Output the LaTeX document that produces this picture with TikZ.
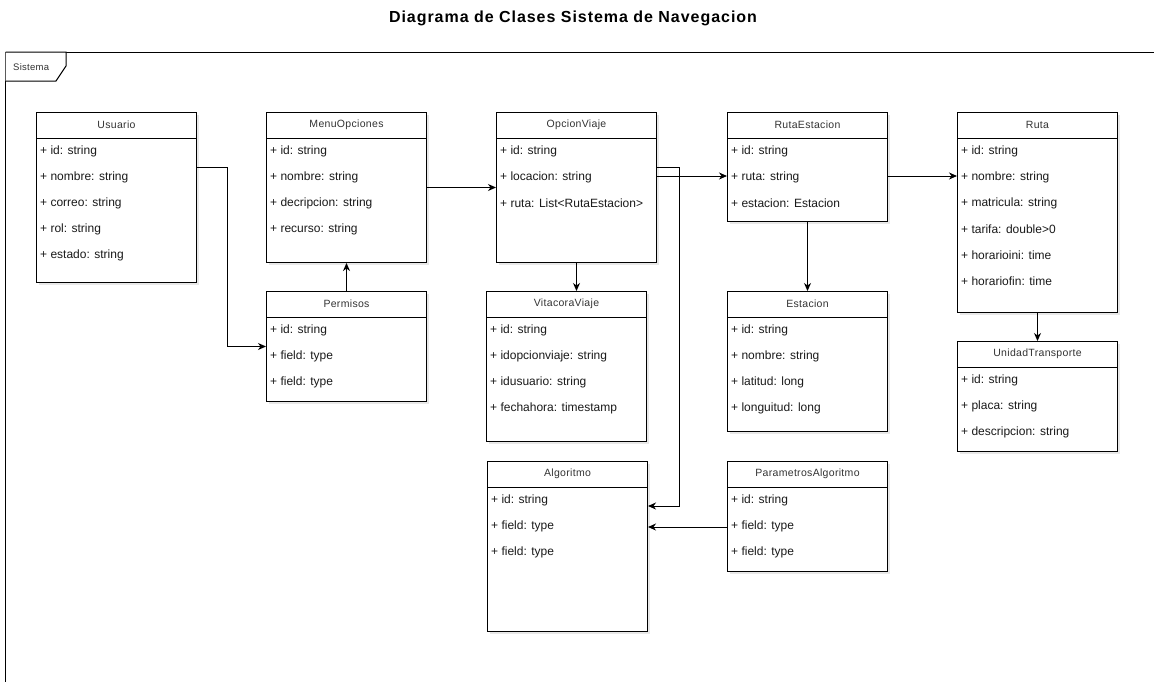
\documentclass[tikz,border=0pt]{standalone}
\usepackage{fontspec}
\setmainfont{Liberation Sans}
\usetikzlibrary{arrows.meta,shadows,calc}

\definecolor{linecol}{HTML}{000000}
\definecolor{headcol}{HTML}{333333}
\definecolor{rowcol}{HTML}{1A1A1A}

\tikzset{
  classbox/.style={draw=linecol, line width=1pt, fill=white, anchor=north west,
    minimum width=160pt, inner sep=0pt,
    drop shadow={opacity=0.18, shadow xshift=2pt, shadow yshift=-2pt}},
  headtext/.style={font=\fontsize{10.5}{12}\selectfont\addfontfeature{LetterSpace=3}, text=headcol, inner sep=0pt},
  rowtext/.style={font=\fontsize{12}{14}\selectfont, text=rowcol, anchor=west, inner sep=0pt},
  assoc/.style={draw=linecol, line width=1pt, -{Stealth[length=8pt,width=7pt,inset=2.5pt]}},
}

% name, x, y (top left), height, title, attribute rows
\newcommand{\umlclass}[6]{%
  \node[classbox, minimum height=#4pt] (#1) at (#2,#3) {};
  \draw[line width=1pt, linecol] ([yshift=-26pt]#1.north west) -- ([yshift=-26pt]#1.north east);
  \node[headtext] (#1-title) at ([yshift=-13pt]#1.north) {#5};
  \foreach \r [count=\i] in {#6} {
    \node[rowtext] (#1-row\i) at ([xshift=4pt, yshift={-13pt-26pt*\i}]#1.north west) {\r};
  }%
}

\begin{document}
\begin{tikzpicture}[x=1pt, y=-1pt]
  \useasboundingbox (0,0) rectangle (1154,681);
  \fill[white] (0,0) rectangle (1154,681);

  % title
  \node[font=\fontsize{16}{18}\selectfont\bfseries\addfontfeature{LetterSpace=6}, inner sep=0pt] (title) at (573,18) {Diagrama de Clases Sistema de Navegacion};

  % system frame with its tab
  \draw[line width=1pt, linecol] (1156,52) -- (5.5,52) -- (5.5,684);
  \draw[line width=1pt, linecol, fill=white] (5.5,52) -- (66,52) -- (66,66) -- (56,81) -- (5.5,81);
  \node[font=\fontsize{9.5}{11}\selectfont\addfontfeature{LetterSpace=3}, text=headcol, inner sep=0pt, anchor=west] (frame-label) at (13,67) {Sistema};

  % classes
  \umlclass{usuario}{36}{112}{170}{Usuario}{+ id: string, + nombre: string, + correo: string, + rol: string, + estado: string}
  \umlclass{menu}{266}{112}{150}{MenuOpciones}{+ id: string, + nombre: string, + decripcion: string, + recurso: string}
  \umlclass{permisos}{266}{291}{110}{Permisos}{+ id: string, + field: type, + field: type}
  \umlclass{opcion}{496}{112}{150}{OpcionViaje}{+ id: string, + locacion: string, + ruta: List<RutaEstacion>}
  \umlclass{vitacora}{486}{291}{150}{VitacoraViaje}{+ id: string, + idopcionviaje: string, + idusuario: string, + fechahora: timestamp}
  \umlclass{rutaest}{727}{112}{109}{RutaEstacion}{+ id: string, + ruta: string, + estacion: Estacion}
  \umlclass{estacion}{727}{291}{140}{Estacion}{+ id: string, + nombre: string, + latitud: long, + longuitud: long}
  \umlclass{ruta}{957}{112}{200}{Ruta}{+ id: string, + nombre: string, + matricula: string, + tarifa: double>0, + horarioini: time, + horariofin: time}
  \umlclass{unidad}{957}{341}{110}{UnidadTransporte}{+ id: string, + placa: string, + descripcion: string}
  \umlclass{algoritmo}{487}{461}{170}{Algoritmo}{+ id: string, + field: type, + field: type}
  \umlclass{param}{727}{461}{110}{ParametrosAlgoritmo}{+ id: string, + field: type, + field: type}

  % associations
  \draw[assoc] ([yshift=-55pt]usuario.north east) -- ++(30pt,0) |- (permisos.west);
  \draw[assoc] (permisos.north) -- (menu.south);
  \draw[assoc] (menu.east) -- (opcion.west);
  \draw[assoc] ([yshift=-64pt]opcion.north east) coordinate (o2r) -- (rutaest.west |- o2r);
  \draw[assoc] ([yshift=-55pt]opcion.north east) -- ++(22pt,0) |- ([yshift=-45pt]algoritmo.north east);
  \draw[assoc] (opcion.south) -- (opcion.south |- vitacora.north);
  \draw[assoc] ([yshift=-64pt]rutaest.north east) coordinate (r2r) -- (ruta.west |- r2r);
  \draw[assoc] (rutaest.south) -- (estacion.north);
  \draw[assoc] (ruta.south) -- (unidad.north);
  \draw[assoc] ([yshift=-66pt]param.north west) coordinate (p2a) -- (algoritmo.east |- p2a);
\end{tikzpicture}
\end{document}
